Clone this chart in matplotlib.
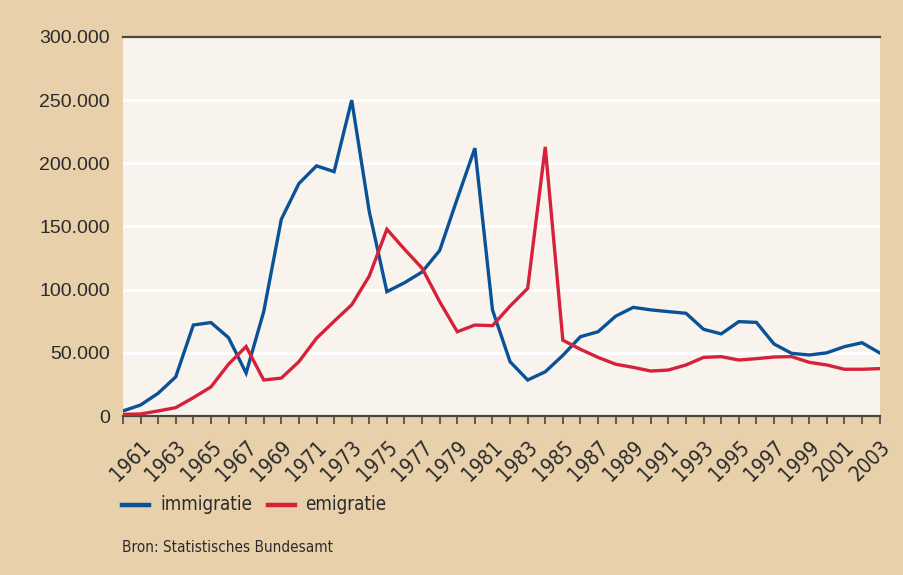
import matplotlib
matplotlib.use("Agg")
import matplotlib.pyplot as plt
from matplotlib.lines import Line2D
from matplotlib import font_manager as fm

years = list(range(1960, 2004))
immigratie = [4000, 8700, 18000, 31000, 72000, 74000, 62000, 34000, 82600, 155700,
              184000, 198000, 193400, 250000, 161700, 98400, 105500, 114000, 131000, 172000,
              212000, 84000, 43000, 28500, 35000, 48000, 62800, 66700, 79000, 86000,
              84000, 82600, 81300, 68600, 65000, 74700, 74100, 57000, 49600, 48300,
              50000, 54900, 58000, 50000]
emigratie = [1300, 1600, 4000, 6600, 14500, 23000, 41000, 55000, 28500, 30000,
             43000, 61500, 75000, 88000, 110800, 147800, 132000, 117000, 90500, 66700,
             72000, 71500, 87000, 101000, 213000, 60000, 52800, 46400, 41000, 38500,
             35600, 36400, 40400, 46400, 47000, 44300, 45400, 46700, 47000, 42500,
             40400, 37000, 37000, 37500]
y_ticks = [0, 50000, 100000, 150000, 200000, 250000, 300000]
y_labels = ["0", "50.000", "100.000", "150.000", "200.000", "250.000", "300.000"]
x_label_years = list(range(1961, 2004, 2))
series_names = ["immigratie", "emigratie"]
source = "Bron: Statistisches Bundesamt"

BEIGE = "#E8D0AA"
PLOT_BG = "#F8F3EC"
BLUE = "#0A5297"
RED = "#D6213A"
TXT = "#2B2B2B"

# find a condensed font if available
narrow_fp = None
for f in fm.fontManager.ttflist:
    if "Condensed" in f.fname or "Narrow" in f.fname:
        if "Bold" not in f.fname and "Oblique" not in f.fname and "Italic" not in f.fname:
            narrow_fp = f.fname
            if "DejaVuSansCondensed.ttf" in f.fname or "LiberationSansNarrow-Regular" in f.fname:
                break

def nfp(size):
    if narrow_fp:
        return fm.FontProperties(fname=narrow_fp, size=size)
    return fm.FontProperties(family="DejaVu Sans", size=size * 0.85)

fig = plt.figure(figsize=(9.04, 5.75), dpi=100, facecolor=BEIGE)
ax = fig.add_axes([0.136, 0.2765, 0.837, 0.6592])
ax.set_facecolor(PLOT_BG)

for yt in y_ticks[1:-1]:
    ax.axhline(yt, color="white", lw=2.2, zorder=1)

ax.plot(years, immigratie, color=BLUE, lw=2.4, zorder=3, solid_joinstyle="miter")
ax.plot(years, emigratie, color=RED, lw=2.4, zorder=3, solid_joinstyle="miter")

ax.set_xlim(1960, 2003)
ax.set_ylim(0, 300000)

for s in ["left", "right"]:
    ax.spines[s].set_visible(False)
for s in ["top", "bottom"]:
    ax.spines[s].set_color("#4A4640")
    ax.spines[s].set_linewidth(1.6)

ax.set_yticks(y_ticks)
ax.set_yticklabels(y_labels, fontsize=14, color=TXT, family=["Liberation Sans", "DejaVu Sans"])
ax.tick_params(axis="y", length=0, pad=9.5)

ax.set_xticks(years)
ax.set_xticklabels([str(y) if y in x_label_years else "" for y in years])
for lbl in ax.get_xticklabels():
    lbl.set_rotation(45)
    lbl.set_ha("right")
    lbl.set_va("top")
    lbl.set_rotation_mode("anchor")
    lbl.set_fontproperties(nfp(15))
    lbl.set_color(TXT)
ax.tick_params(axis="x", direction="out", length=6, width=1.2, color="#4A4640", pad=9)

# legend
fy = 1 - 505 / 575
fig.add_artist(Line2D([122 / 904, 149 / 904], [fy, fy], color=BLUE, lw=3.2))
fig.text(160 / 904, fy, series_names[0], fontproperties=nfp(13.5), color=TXT, va="center")
fig.add_artist(Line2D([268 / 904, 295 / 904], [fy, fy], color=RED, lw=3.2))
fig.text(305 / 904, fy, series_names[1], fontproperties=nfp(13.5), color=TXT, va="center")

fig.text(122 / 904, 1 - 547 / 575, source, fontproperties=nfp(11), color=TXT, va="center")

fig.savefig("out.png", dpi=100, facecolor=BEIGE)
